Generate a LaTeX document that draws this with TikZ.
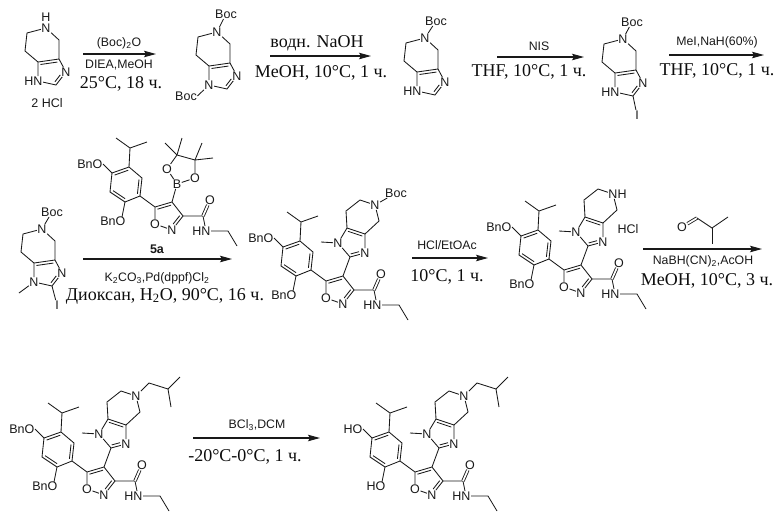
\documentclass[tikz,border=0pt]{standalone}
\usepackage{fontspec}
\setmainfont{Liberation Sans}
\newfontfamily\serfont{Liberation Serif}
\usetikzlibrary{calc,arrows.meta}
\tikzset{
  bond/.style={line width=.85pt,black!90},
  dbond/.style={bond,double,double distance=1.7pt},
  atom/.style={font=\fontsize{12.5}{13}\selectfont,inner sep=.4pt,text=black!90},
  reag/.style={font=\fontsize{12.3}{13}\selectfont,inner sep=0pt,text=black!90},
  rusreag/.style={font=\serfont\fontsize{18}{20}\selectfont,inner sep=0pt,text=black!95},
  rxn/.style={line width=1.1pt,black!90,-{Stealth[length=12pt,width=6.5pt,inset=2pt]}},
}
% inner line of a double bond, on the left of #1 -> #2
\newcommand\dbl[4]{\draw[bond] ($(#1)!#3!(#2)!2.8pt!90:(#2)$) -- ($(#2)!#4!(#1)!2.8pt!-90:(#1)$);}
% small bicycle: #1 prefix, #2 #3 position of N, #4 text of N1
\newcommand\smallcore[4]{
  \begin{scope}[shift={(#2,#3)}]
    \node[atom] (#1N) at (0,0) {N};
    \coordinate (#1b) at (13,12);
    \coordinate (#1c) at (13,31);
    \coordinate (#1d) at (-8,34);
    \coordinate (#1e) at (-21,23);
    \coordinate (#1f) at (-19,5);
    \node[atom] (#1N1) at (-8,53) {#4};
    \coordinate (#1C) at (10,57);
    \node[atom] (#1N3) at (20,44) {N};
    \draw[bond] (#1N) -- (#1b) -- (#1c) -- (#1d) -- (#1e) -- (#1f) -- (#1N);
    \draw[bond] (#1d) -- (#1N1) -- (#1C) -- (#1N3) -- (#1c);
    \dbl{#1c}{#1d}{.1}{.1}
    \dbl{#1C}{#1N3}{.12}{.35}
  \end{scope}
}
% big bicycle, written in the coordinates of the lower left molecule
\newcommand\bigcore[4]{
  \begin{scope}[shift={(#2,#3)}]
    \coordinate (#1C2) at (111,448);
    \node[atom] (#1N3) at (126,444) {N};
    \coordinate (#1C3a) at (126,425);
    \coordinate (#1C7a) at (108,419);
    \node[atom] (#1N1) at (99,434) {N};
    \coordinate (#1Me) at (82,433);
    \coordinate (#1f) at (107,402);
    \coordinate (#1g) at (121,391);
    \node[atom] (#1N) at (136,396) {#4};
    \coordinate (#1h) at (140,412);
    \draw[bond] (#1C2) -- (#1N3) -- (#1C3a) -- (#1C7a) -- (#1N1) -- (#1C2);
    \draw[bond] (#1N1) -- (#1Me);
    \draw[bond] (#1C7a) -- (#1f) -- (#1g) -- (#1N) -- (#1h) -- (#1C3a);
    \dbl{#1C2}{#1N3}{.1}{.35}
    \dbl{#1C3a}{#1C7a}{.1}{.1}
  \end{scope}
}
% aryl, isoxazole, amide
\newcommand\arylpart[4]{
  \begin{scope}[shift={(#2,#3)}]
    \coordinate (#1m1) at (48,403);
    \coordinate (#1CH) at (62,413);
    \coordinate (#1m2) at (79,407);
    \coordinate (#1r1) at (61,432);
    \coordinate (#1r2) at (74,443);
    \coordinate (#1r3) at (72,461);
    \coordinate (#1r4) at (57,467);
    \coordinate (#1r5) at (42,457);
    \coordinate (#1r6) at (44,438);
    \node[atom,anchor=east] (#1Oa) at (35,429) {#4};
    \node[atom,anchor=east] (#1Ob) at (58,486) {#4};
    \coordinate (#1i5) at (87,472);
    \coordinate (#1i4) at (104,467);
    \coordinate (#1i3) at (115,481);
    \node[atom] (#1Ni) at (104,495) {N};
    \node[atom] (#1Oi) at (87,489) {O};
    \coordinate (#1Cam) at (135,481);
    \node[atom] (#1Oam) at (142,465) {O};
    \node[atom] (#1Nam) at (138,496) {\llap{H}N};
    \coordinate (#1e1) at (160,496);
    \coordinate (#1e2) at (169,511);
    \draw[bond] (#1m1) -- (#1CH) -- (#1m2);
    \draw[bond] (#1CH) -- (#1r1) -- (#1r2) -- (#1r3) -- (#1r4) -- (#1r5) -- (#1r6) -- (#1r1);
    \dbl{#1r1}{#1r6}{.1}{.1}
    \dbl{#1r5}{#1r4}{.1}{.1}
    \dbl{#1r3}{#1r2}{.1}{.1}
    \draw[bond] (#1r6) -- (#1Oa.east);
    \draw[bond] (#1r4) -- ($(#1Ob.north east)+(-4,1)$);
    \draw[bond] (#1r3) -- (#1i5) -- (#1i4) -- (#1i3) -- (#1Ni) -- (#1Oi) -- (#1i5);
    \dbl{#1i4}{#1i5}{.1}{.1}
    \dbl{#1Ni}{#1i3}{.3}{.1}
    \draw[bond] (#1i3) -- (#1Cam) -- (#1Nam) -- (#1e1) -- (#1e2);
    \draw[dbond] (#1Cam) -- (#1Oam);
  \end{scope}
}
\newcommand\isobutyl[2]{
  \coordinate (#1s1) at (#2+149,383);
  \coordinate (#1s2) at (#2+168,389);
  \coordinate (#1s3) at (#2+180,377);
  \coordinate (#1s4) at (#2+171,407);
  \draw[bond] (#1N) -- (#1s1) -- (#1s2) -- (#1s3);
  \draw[bond] (#1s2) -- (#1s4);
}
\begin{document}
\begin{tikzpicture}[x=1pt,y=-1pt]
\useasboundingbox (0,0) rectangle (780,515);

% ---- top row
\smallcore{A}{46}{28}{\llap{H}N}
\node[atom] (AH) at (46,17) {H};
\node[atom] (Asalt) at (47,103) {2 HCl};

\smallcore{B}{217}{32}{N}
\node[atom] (Bboc) at (226,14) {Boc};
\node[atom] (Bboc2) at (186,96) {Boc};
\draw[bond] (BN) -- (Bboc);
\draw[bond] (BN1) -- (Bboc2.east);

\smallcore{C}{425}{38}{\llap{H}N}
\node[atom] (Cboc) at (436,21) {Boc};
\draw[bond] (CN) -- (Cboc);

\smallcore{D}{623}{39}{\llap{H}N}
\node[atom] (Dboc) at (632,22) {Boc};
\node[atom] (DI) at (637,115) {I};
\draw[bond] (DN) -- (Dboc);
\draw[bond] (DC) -- (DI);

% ---- second row
\smallcore{E}{42}{229}{N}
\node[atom] (Eboc) at (52,212) {Boc};
\node[atom] (EI) at (57,305) {I};
\coordinate (EMe) at (19,293);
\draw[bond] (EN) -- (Eboc);
\draw[bond] (EC) -- (EI);
\draw[bond] (EN1) -- (EMe);

% reagent 5a
\arylpart{P}{68}{-265}{BnO}
\node[atom] (PB) at (177,184) {B};
\node[atom] (PO1) at (167,169) {O};
\node[atom] (PO2) at (195,178) {O};
\coordinate (PC1) at (177,155);
\coordinate (PC2) at (195,160);
\coordinate (Pa) at (165,143);
\coordinate (Pb) at (182,138);
\coordinate (Pc) at (202,143);
\coordinate (Pd) at (213,158);
\draw[bond] (Pi4) -- (PB) -- (PO1) -- (PC1) -- (PC2) -- (PO2) -- (PB);
\draw[bond] (PC1) -- (Pa);
\draw[bond] (PC1) -- (Pb);
\draw[bond] (PC2) -- (Pc);
\draw[bond] (PC2) -- (Pd);
\node[atom,font=\fontsize{12.5}{13}\selectfont\bfseries] (P5a) at (157,249) {5a};

% Boc intermediate
\arylpart{M}{239}{-191}{BnO}
\bigcore{M}{239}{-191}{N}
\draw[bond] (Mi4) -- (MC2);
\node[atom] (Mboc) at (396,193) {Boc};
\draw[bond] (MN) -- (Mboc);

% NH intermediate
\arylpart{R}{477}{-202}{BnO}
\bigcore{R}{477}{-202}{N\rlap{H}}
\draw[bond] (Ri4) -- (RC2);
\node[atom] (Rsalt) at (628,229) {HCl};

% aldehyde
\node[atom] (AlO) at (682,227) {O};
\coordinate (AlC) at (697,218);
\coordinate (AlH) at (712,228);
\coordinate (Alm1) at (728,217);
\coordinate (Alm2) at (712,244);
\draw[dbond] (AlO) -- (AlC);
\draw[bond] (AlC) -- (AlH) -- (Alm1);
\draw[bond] (AlH) -- (Alm2);

% ---- bottom row
\arylpart{L}{0}{0}{BnO}
\bigcore{L}{0}{0}{N}
\draw[bond] (Li4) -- (LC2);
\isobutyl{L}{0}

\arylpart{F}{328}{0}{HO}
\bigcore{F}{328}{0}{N}
\draw[bond] (Fi4) -- (FC2);
\isobutyl{F}{328}

% ---- arrows
\coordinate (a1s) at (83,54);   \coordinate (a1e) at (156,54);
\coordinate (a2s) at (270,56);  \coordinate (a2e) at (371,56);
\coordinate (a3s) at (497,57);  \coordinate (a3e) at (584,57);
\coordinate (a4s) at (669,55);  \coordinate (a4e) at (764,55);
\coordinate (a5s) at (83,259);  \coordinate (a5e) at (232,259);
\coordinate (a6s) at (412,258); \coordinate (a6e) at (488,258);
\coordinate (a7s) at (643,249); \coordinate (a7e) at (762,249);
\coordinate (a8s) at (193,438); \coordinate (a8e) at (320,438);
\foreach \k in {1,...,8} {\draw[rxn] (a\k s) -- (a\k e);}

% ---- conditions
\node[reag] (t1a) at (119,43) {(Boc)\textsubscript{2}O};
\node[reag] (t1b) at (119,65) {DIEA,MeOH};
\node[rusreag] (t1c) at (121,84) {25°C, 18 ч.};
\node[rusreag] (t2a) at (317,43) {водн. NaOH};
\node[rusreag] (t2b) at (321,73) {MeOH, 10°C, 1 ч.};
\node[reag] (t3a) at (539,46) {NIS};
\node[rusreag] (t3b) at (529,72) {THF, 10°C, 1 ч.};
\node[reag] (t4a) at (717,42) {MeI,NaH(60\%)};
\node[rusreag] (t4b) at (717,71) {THF, 10°C, 1 ч.};
\node[reag] (t5a) at (157,278) {K\textsubscript{2}CO\textsubscript{3},Pd(dppf)Cl\textsubscript{2}};
\node[rusreag] (t5b) at (165,296) {Диоксан, H\textsubscript{2}O, 90°C, 16 ч.};
\node[reag] (t6a) at (447,245) {HCl/EtOAc};
\node[rusreag] (t6b) at (447,277) {10°C, 1 ч.};
\node[reag] (t7a) at (703,261) {NaBH(CN)\textsubscript{2},AcOH};
\node[rusreag] (t7b) at (707,281) {MeOH, 10°C, 3 ч.};
\node[reag] (t8a) at (257,425) {BCl\textsubscript{3},DCM};
\node[rusreag] (t8b) at (245,457) {-20°C-0°C, 1 ч.};
\end{tikzpicture}
\end{document}
